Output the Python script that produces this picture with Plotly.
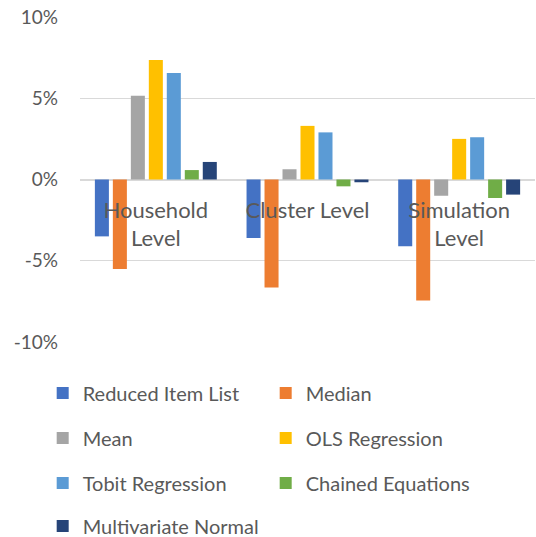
import plotly.graph_objects as go

categories = ["Household<br>Level", "Cluster Level", "Simulation<br>Level"]
series_names = ["Reduced Item List", "Median", "Mean", "OLS Regression",
                "Tobit Regression", "Chained Equations", "Multivariate Normal"]
reduced_item_list = [-3.5, -3.6, -4.1]
median = [-5.5, -6.65, -7.45]
mean = [5.15, 0.63, -1.0]
ols_regression = [7.35, 3.3, 2.5]
tobit_regression = [6.55, 2.9, 2.6]
chained_equations = [0.58, -0.42, -1.14]
multivariate_normal = [1.08, -0.17, -0.93]
series_values = [reduced_item_list, median, mean, ols_regression,
                 tobit_regression, chained_equations, multivariate_normal]
colors = ["#4472C4", "#ED7D31", "#A5A5A5", "#FFC000", "#5B9BD5", "#70AD47", "#264478"]
y_ticks = [-10, -5, 0, 5, 10]
y_tick_labels = ["-10%", "-5%", "0%", "5%", "10%"]

legend_of = ["legend", "legend", "legend2", "legend2", "legend3", "legend3", "legend4"]

fig = go.Figure()
for name, vals, col, lg in zip(series_names, series_values, colors, legend_of):
    fig.add_trace(go.Bar(x=categories, y=vals, name=name, marker_color=col,
                         marker_line_width=0, legend=lg))

FONT = "Lato"
GREY = "#595959"
W, H = 536, 537
top, bottom = 17, 342
ph = bottom - top

def ypaper(ypx):
    return (bottom - ypx) / ph

leg_common = dict(orientation="h", x=-0.082, xanchor="left", yanchor="middle",
                  font=dict(family=FONT, size=20, color=GREY), entrywidth=178,
                  entrywidthmode="pixels", bgcolor="rgba(0,0,0,0)", itemclick=False)
rows = [393, 438, 483, 526]

fig.update_layout(
    width=W, height=H,
    margin=dict(l=80, r=1, t=top, b=H - bottom, autoexpand=False),
    paper_bgcolor="white", plot_bgcolor="white",
    barmode="group", bargap=0.17, bargroupgap=0.22,
    legend=dict(y=ypaper(rows[0]), **leg_common),
    legend2=dict(y=ypaper(rows[1]), **leg_common),
    legend3=dict(y=ypaper(rows[2]), **leg_common),
    legend4=dict(y=ypaper(rows[3]), **leg_common),
    xaxis=dict(anchor="free", position=0.5, showline=False, ticks="",
               tickfont=dict(family=FONT, size=22, color=GREY), showgrid=False,
               ticklabelstandoff=15, automargin=False),
    yaxis=dict(range=[-10, 10], tickvals=y_ticks, ticktext=y_tick_labels,
               tickfont=dict(family=FONT, size=19, color=GREY),
               showgrid=True, gridcolor="#D9D9D9", gridwidth=1.3,
               zeroline=True, zerolinecolor="#D9D9D9", zerolinewidth=2,
               showline=False, ticks="", ticklabelstandoff=21, fixedrange=True,
               automargin=False),
    font=dict(family=FONT, color=GREY),
)

fig.write_html("out.html", config={"displayModeBar": False},
               post_script="document.body.style.margin='0';document.body.style.overflow='hidden';")
